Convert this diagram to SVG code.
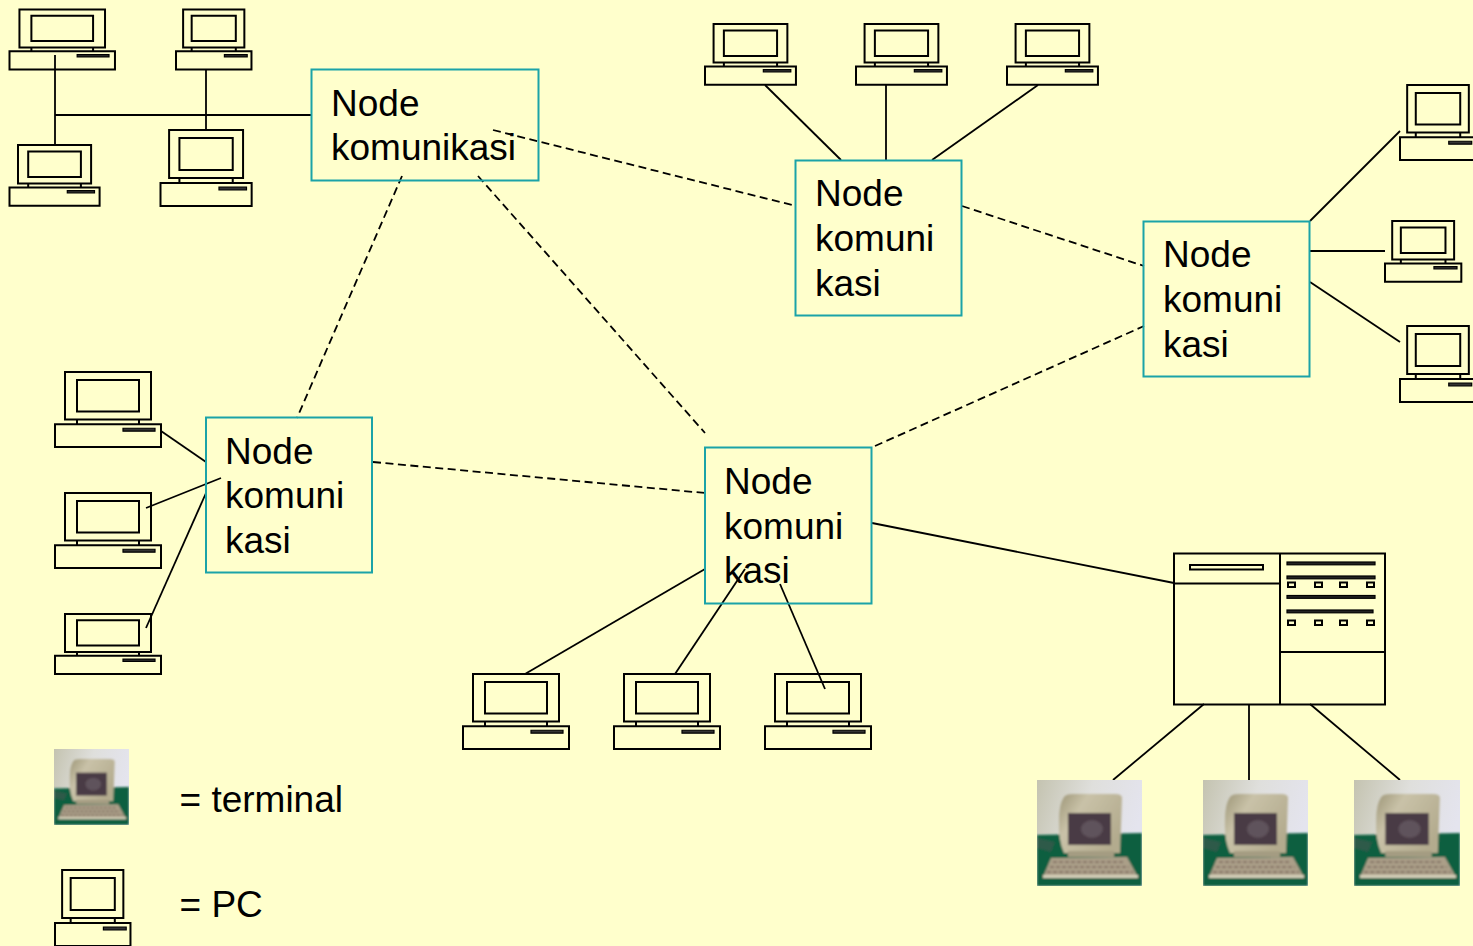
<svg xmlns="http://www.w3.org/2000/svg" width="1473" height="946" viewBox="0 0 1473 946">
<style>
text{font-family:"Liberation Sans",Arial,sans-serif;font-size:37px;fill:#000}
.box{fill:none;stroke:#1ba3a8;stroke-width:2}
.pc *{fill:none;stroke:#000;stroke-width:2;vector-effect:non-scaling-stroke}
.pc .slot{fill:#333;stroke-width:1.2}
.c line{stroke:#000;stroke-width:1.8}
.d line{stroke:#000;stroke-width:1.8;stroke-dasharray:8 4.5}
.s *{stroke:#000;fill:none;stroke-width:2}
.s .f{fill:#222;stroke-width:1.2}
</style>
<defs>
<g id="pc" class="pc">
<rect x="10" y="0" width="86" height="48"/>
<rect x="22" y="8" width="62" height="32"/>
<path d="M22 48V53M84 48V53"/>
<rect x="0" y="53" width="106" height="23"/>
<rect class="slot" x="68" y="57" width="32" height="3"/>
</g>
<linearGradient id="sky" x1="0" y1="0" x2="1" y2="0.3"><stop offset="0" stop-color="#c4c3b0"/><stop offset="0.5" stop-color="#dfdfdc"/><stop offset="1" stop-color="#e4e4ee"/></linearGradient>
<linearGradient id="case" x1="0" y1="0" x2="1" y2="0.6"><stop offset="0" stop-color="#9d9678"/><stop offset="0.35" stop-color="#c9c2a8"/><stop offset="1" stop-color="#b3ab8e"/></linearGradient>
<filter id="blur" x="-5%" y="-5%" width="110%" height="110%"><feGaussianBlur stdDeviation="1.300"/></filter>
<clipPath id="tc"><rect width="105" height="106"/></clipPath>
<g id="term">
<g clip-path="url(#tc)">
<rect width="105" height="106" fill="url(#sky)"/>
<g filter="url(#blur)">
<path d="M0 55L105 53V106H0Z" fill="#0c5f41"/>
<path d="M0 58L18 62L14 72L0 68Z" fill="#2f5a48"/>
<path d="M27 17Q29 14 36 14L78 14Q85 14 85 18L83 73L27 73Q21 60 22 40Q22 24 27 17Z" fill="url(#case)"/>
<rect x="31" y="33" width="43" height="32" fill="#4a3a44"/>
<ellipse cx="55" cy="49" rx="11" ry="9" fill="#5f525b"/>
<rect x="31" y="71" width="46" height="6" fill="#a49c82"/>
<path d="M14 78L90 77L101 97L6 97Z" fill="#ab9f88"/>
<path d="M16 82H88M13 87H92M10 92H96" stroke="#857566" stroke-width="2.200" stroke-dasharray="4 2" fill="none"/>
<rect x="6" y="95" width="95" height="3" fill="#d6d0ba"/>
</g>
</g>
</g>
</defs>
<rect width="1473" height="946" fill="#ffffcc"/>

<g id="connectors">
<g class="c">
<line x1="55" y1="55" x2="55" y2="145"/><line x1="55" y1="115" x2="311" y2="115"/><line x1="206" y1="69" x2="206" y2="130"/>
<line x1="765" y1="85" x2="841" y2="160"/><line x1="886" y1="85" x2="886" y2="160"/><line x1="1038" y1="85" x2="932" y2="160"/>
<line x1="1310" y1="221" x2="1400" y2="131"/><line x1="1310" y1="251" x2="1385" y2="251"/><line x1="1310" y1="282" x2="1400" y2="342"/>
<line x1="161" y1="431" x2="206" y2="462"/><line x1="146" y1="508" x2="221" y2="478"/><line x1="146" y1="628" x2="206" y2="493"/>
<line x1="705" y1="569" x2="525" y2="674"/><line x1="745" y1="569" x2="675" y2="674"/><line x1="780" y1="584" x2="825" y2="689"/>
<line x1="872" y1="523" x2="1174" y2="583"/>
<line x1="1204" y1="704" x2="1113" y2="780"/><line x1="1249" y1="704" x2="1249" y2="780"/><line x1="1310" y1="704" x2="1400" y2="780"/>
</g>
<g class="d">
<line x1="493" y1="130" x2="796" y2="206"/><line x1="962" y1="206" x2="1144" y2="266"/>
<line x1="402" y1="176" x2="297" y2="418"/><line x1="478" y1="176" x2="705" y2="433"/>
<line x1="373" y1="462" x2="705" y2="493"/><line x1="875" y1="446" x2="1144" y2="326"/>
</g>
</g>

<g id="node-1"><rect class="box" x="311.500" y="69.500" width="227" height="111"/><text x="331" y="116">Node</text><text x="331" y="160">komunikasi</text></g>
<g id="node-2"><rect class="box" x="795.500" y="160.500" width="166" height="155"/><text x="815" y="206">Node</text><text x="815" y="251">komuni</text><text x="815" y="296">kasi</text></g>
<g id="node-3"><rect class="box" x="1143.500" y="221.500" width="166" height="155"/><text x="1163" y="267">Node</text><text x="1163" y="312">komuni</text><text x="1163" y="357">kasi</text></g>
<g id="node-4"><rect class="box" x="206" y="417.500" width="166" height="155"/><text x="225" y="464">Node</text><text x="225" y="508">komuni</text><text x="225" y="553">kasi</text></g>
<g id="node-5"><rect class="box" x="705" y="447.500" width="166.500" height="156"/><text x="724" y="494">Node</text><text x="724" y="539">komuni</text><text x="724" y="583">kasi</text></g>

<g id="pcs">
<use id="pc-1" href="#pc" transform="translate(9.500 9.500) scale(0.995 0.79)"/>
<use id="pc-2" href="#pc" transform="translate(176 9.500) scale(0.712 0.79)"/>
<use id="pc-3" href="#pc" transform="translate(9.500 145) scale(0.85 0.80)"/>
<use id="pc-4" href="#pc" transform="translate(160.500 130) scale(0.86 1)"/>
<use id="pc-5" href="#pc" transform="translate(705 24) scale(0.858 0.80)"/>
<use id="pc-6" href="#pc" transform="translate(856 24) scale(0.858 0.80)"/>
<use id="pc-7" href="#pc" transform="translate(1007 24) scale(0.858 0.80)"/>
<use id="pc-8" href="#pc" transform="translate(1400 85) scale(0.717 0.987)"/>
<use id="pc-9" href="#pc" transform="translate(1385 221) scale(0.72 0.80)"/>
<use id="pc-10" href="#pc" transform="translate(1400 326) scale(0.717 1)"/>
<use id="pc-11" href="#pc" transform="translate(55 372) scale(1 0.987)"/>
<use id="pc-12" href="#pc" transform="translate(55 493) scale(1 0.987)"/>
<use id="pc-13" href="#pc" transform="translate(55 614) scale(1 0.79)"/>
<use id="pc-14" href="#pc" transform="translate(463 674) scale(1 0.987)"/>
<use id="pc-15" href="#pc" transform="translate(614 674) scale(1 0.987)"/>
<use id="pc-16" href="#pc" transform="translate(765 674) scale(1 0.987)"/>
</g>

<g id="server" class="s">
<rect x="1174" y="553.500" width="211" height="151"/>
<path d="M1280 553V704" stroke-width="2.600"/>
<path d="M1174 583.500H1280M1280 652H1385"/>
<rect x="1190" y="565" width="73" height="4.500" stroke-width="1.500"/>
<rect class="f" x="1287" y="562" width="88" height="2.800"/><rect class="f" x="1287" y="576" width="88" height="2.800"/>
<rect class="f" x="1287" y="595.500" width="88" height="2.800"/><rect class="f" x="1287" y="610" width="86" height="2.800"/>
<g stroke-width="1.700"><rect x="1288" y="582.500" width="7" height="4.500"/><rect x="1315" y="582.500" width="7" height="4.500"/><rect x="1340" y="582.500" width="7" height="4.500"/><rect x="1367" y="582.500" width="7" height="4.500"/>
<rect x="1288" y="620.500" width="7" height="4.500"/><rect x="1315" y="620.500" width="7" height="4.500"/><rect x="1340" y="620.500" width="7" height="4.500"/><rect x="1367" y="620.500" width="7" height="4.500"/></g>
</g>

<g id="terminals">
<use id="terminal-1" href="#term" transform="translate(1037 780)"/>
<use id="terminal-2" href="#term" transform="translate(1203 780)"/>
<use id="terminal-3" href="#term" transform="translate(1354 780) scale(1.01 1)"/>
</g>

<g id="legend">
<use href="#term" transform="translate(54 749) scale(0.714 0.717)"/>
<text x="179.500" y="812">= terminal</text>
<use href="#pc" transform="translate(55 870) scale(0.712 1)"/>
<text x="179.500" y="917">= PC</text>
</g>
</svg>
